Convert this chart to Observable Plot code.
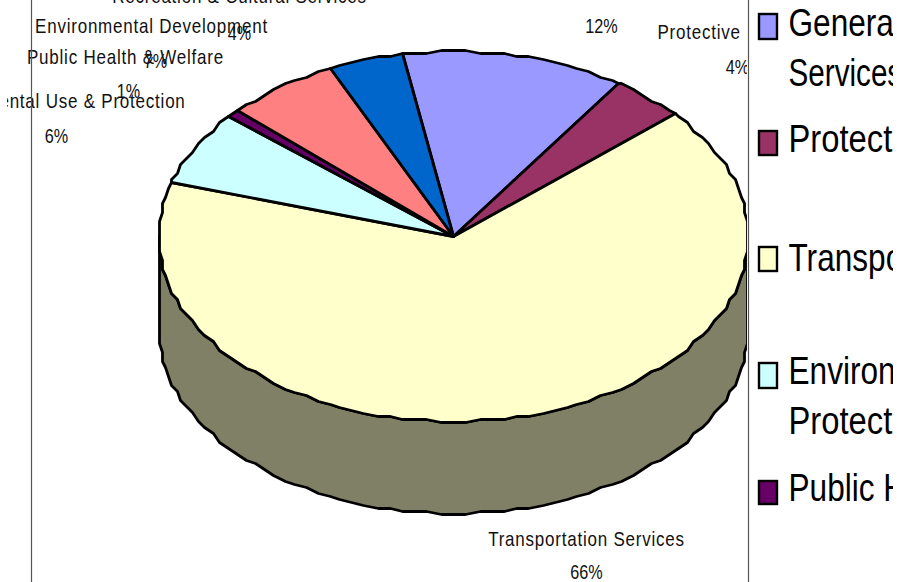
<!DOCTYPE html>
<html><head><meta charset="utf-8">
<script src="https://cdn.jsdelivr.net/npm/d3@7"></script>
<script src="https://cdn.jsdelivr.net/npm/@observablehq/plot@0.6"></script>
<style>
html,body{margin:0;padding:0;background:#fff;overflow:hidden}
svg{display:block}
g[font-size="21"]{letter-spacing:.95px}
</style></head><body><div id="c"></div>
<script>
const categories=["General Government Services","Protective Services","Transportation Services","Environmental Use & Protection","Public Health & Welfare","Environmental Development","Recreation & Cultural Services"];
const shares=[12.2,4.1,66.25,6.45,0.6,6.3,4.1];
const percentLabels=["12%","4%","66%","6%","1%","7%","4%"];

// layout (separate from the data)
const colors=["#9999FF","#993366","#FFFFCC","#CCFFFF","#660066","#FF8080","#0066CC"];
const wallColor="#808066";
const W=897,H=582;
const cx=453,cy=236,rx=294.5,ry=185,depth=92,startDeg=-9.8,stepDeg=2.5,snap=3;
const rad=d=>d*Math.PI/180;
const sn=(v,c)=>c+Math.round((v-c)/snap)*snap;
const pt=(deg,dy=0)=>{
  const a=rad(deg);
  const x=sn(cx+rx*Math.sin(a),cx), y=sn(cy-ry*Math.cos(a),cy)+dy;
  return [Math.max(cx-rx,Math.min(cx+rx,x)),y];
};
function arcAngles(a0,a1){
  const out=[a0];
  for(let g=Math.ceil(a0/stepDeg+1e-6)*stepDeg;g<a1-1e-6;g+=stepDeg){ out.push(g); }
  out.push(a1);
  return out;
}
const total=d3.sum(shares);
let run=startDeg;
const slicePts=[];
categories.forEach((name,i)=>{
  const a0=run,a1=run+shares[i]/total*360; run=a1;
  slicePts.push({name,x:cx,y:cy});
  for(const d of arcAngles(a0,a1)){const [x,y]=pt(d);slicePts.push({name,x,y});}
});
const wallPts=[];
{
  const top=arcAngles(90,270);
  for(const d of top){const [x,y]=pt(d);wallPts.push({name:"wall",x,y});}
  for(const d of top.slice().reverse()){const [x,y]=pt(d,depth);wallPts.push({name:"wall",x,y});}
}

// data-label placement: [x centre, baseline of name, x centre of percent, baseline of percent]
const labelPlace=[
  null,
  [737,38,737,73],
  [586,545,586,578],
  [53,107,56,142],
  [125,63,128,97],
  [151,32,155,67],
  [239,2,239,39]
];
const nameLabels=categories.map((t,i)=>labelPlace[i]?{t,x:labelPlace[i][0],y:labelPlace[i][1]}:null).filter(Boolean);
const pctLabels=percentLabels.map((t,i)=>labelPlace[i]?{t,x:labelPlace[i][2],y:labelPlace[i][3]}:{t,x:601,y:32});

// legend rows
const legendRows=[
  {i:0,top:14,bot:39,lines:[["General Government",37],["Services",87]]},
  {i:1,top:131,bot:155,lines:[["Protective Services",153]]},
  {i:2,top:247,bot:271,lines:[["Transportation Services",272]]},
  {i:3,top:363,bot:388,lines:[["Environmental Use &",385],["Protection",435]]},
  {i:4,top:481,bot:504,lines:[["Public Health & Welfare",502]]}
];
const legendText=legendRows.flatMap(r=>r.lines.map(([t,y])=>({t,y,x:788})));
const squeeze=t=>/^Protect/.test(t)?0.84:/^Services/.test(t)?0.76:0.81;

const font="Liberation Sans, Arial, sans-serif";
const chart=Plot.plot({
  width:W,height:H,marginTop:0,marginBottom:0,marginLeft:7,marginRight:4,
  style:{background:"#fff",fontFamily:font},
  x:{domain:[7,893],range:[7,893],axis:null},
  y:{domain:[0,H],range:[0,H],axis:null},
  color:{domain:[...categories,"wall"],range:[...colors,wallColor]},
  marks:[
    Plot.line(wallPts,{x:"x",y:"y",z:"name",fill:"name",stroke:"#000",strokeWidth:2.8,strokeLinejoin:"round",curve:"linear-closed"}),
    Plot.line(slicePts,{x:"x",y:"y",z:"name",fill:"name",stroke:"#000",strokeWidth:2.8,strokeLinejoin:"round",curve:"linear-closed"}),
    Plot.text(nameLabels,{x:"x",y:"y",text:"t",fontSize:21,fill:"#111",lineAnchor:"bottom",dy:0,clip:"frame"}),
    Plot.text(pctLabels,{x:"x",y:"y",text:"t",fontSize:20,fill:"#111",lineAnchor:"bottom",dy:0,clip:"frame"}),
    Plot.rect([{}],{x1:()=>747,x2:()=>893,y1:()=>0,y2:()=>H,fill:"#fff"}),
    Plot.ruleX([31,748],{stroke:"#555",strokeWidth:1.2}),
    Plot.rect(legendRows,{x1:()=>759,x2:()=>777,y1:"top",y2:"bot",fill:d=>categories[d.i],stroke:"#000",strokeWidth:2.4}),
    Plot.text(legendText,{x:"x",y:"y",text:"t",textAnchor:"start",lineAnchor:"bottom",dy:-2,fontSize:39,fill:"#000",clip:"frame"})
  ]
});
document.getElementById("c").append(chart);
// the reference's typeface is a condensed one: squeeze the glyphs to match
d3.select(chart).selectAll("text").each(function(){
  const big=+this.parentNode.getAttribute("font-size")===39;
  const r=big?squeeze(this.textContent):0.81;
  this.setAttribute("textLength",(this.getComputedTextLength()*r).toFixed(1));
  this.setAttribute("lengthAdjust","spacingAndGlyphs");
});
</script></body></html>
